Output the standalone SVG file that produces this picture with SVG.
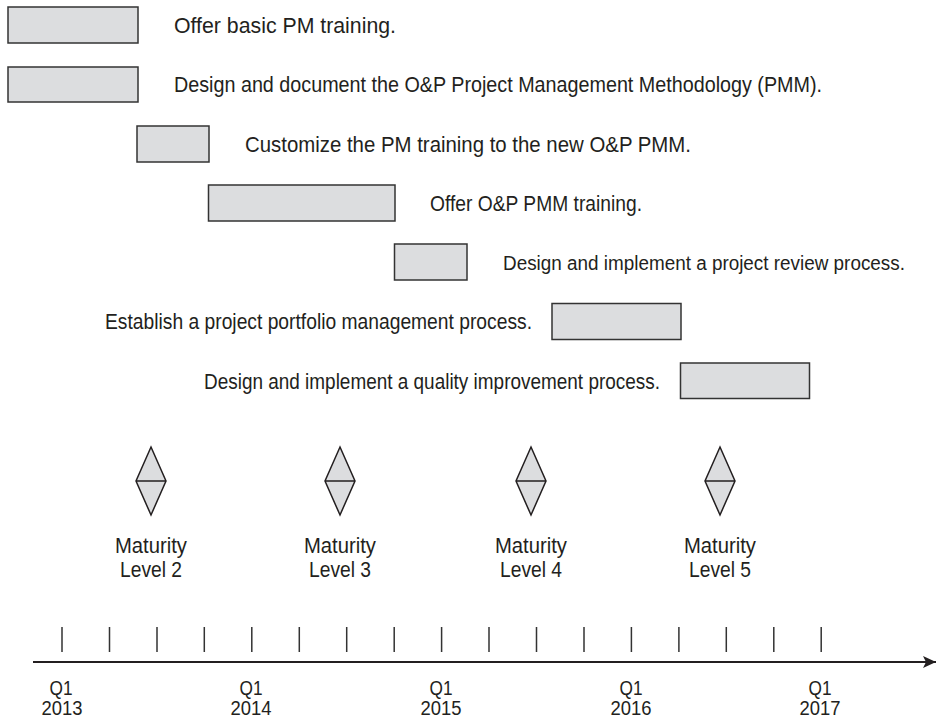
<svg xmlns="http://www.w3.org/2000/svg" width="938" height="719" viewBox="0 0 938 719">
<style>
  .bar{fill:#dcdddf;stroke:#333;stroke-width:1.5}
  .t{font-family:"Liberation Sans",Arial,sans-serif;font-size:22px;fill:#231f20}
  .a{font-size:20px}
  .c{text-anchor:middle}
  .dia{fill:#dcdddf;stroke:#231f20;stroke-width:1.5;stroke-linejoin:miter}
  .tick{stroke:#333;stroke-width:1.5}
  .axis{stroke:#231f20;stroke-width:2;fill:none}
</style>
<defs>
  <marker id="arr" viewBox="0 0 14 14" refX="13" refY="7" markerWidth="14" markerHeight="14" markerUnits="userSpaceOnUse" orient="auto">
    <path d="M0,1 L13,7 L0,13 L3,7 Z" fill="#231f20"/>
  </marker>
</defs>
<rect width="938" height="719" fill="#fff"/>

<g id="task1"><rect class="bar" x="8" y="7" width="130" height="36"/><text class="t" x="174" y="33" textLength="222" lengthAdjust="spacingAndGlyphs">Offer basic PM training.</text></g>
<g id="task2"><rect class="bar" x="8" y="67" width="130" height="35"/><text class="t" x="174" y="92" textLength="648" lengthAdjust="spacingAndGlyphs">Design and document the O&amp;P Project Management Methodology (PMM).</text></g>
<g id="task3"><rect class="bar" x="137" y="126" width="72" height="36"/><text class="t" x="245" y="152" textLength="446" lengthAdjust="spacingAndGlyphs">Customize the PM training to the new O&amp;P PMM.</text></g>
<g id="task4"><rect class="bar" x="208.5" y="185" width="186.5" height="36"/><text class="t" x="430" y="211" textLength="212" lengthAdjust="spacingAndGlyphs">Offer O&amp;P PMM training.</text></g>
<g id="task5"><rect class="bar" x="394.5" y="244" width="72.5" height="36"/><text class="t a" x="503" y="270" textLength="402" lengthAdjust="spacingAndGlyphs">Design and implement a project review process.</text></g>
<g id="task6"><rect class="bar" x="552" y="303.5" width="129" height="36"/><text class="t" x="105" y="329" textLength="427" lengthAdjust="spacingAndGlyphs">Establish a project portfolio management process.</text></g>
<g id="task7"><rect class="bar" x="680.5" y="363" width="129" height="35.5"/><text class="t" x="204" y="389" textLength="456" lengthAdjust="spacingAndGlyphs">Design and implement a quality improvement process.</text></g>

<g id="milestone2"><path class="dia" d="M151,447 L166,481 L151,515 L136,481 Z M136,481 H166"/><text class="t c" x="151" y="553" textLength="72" lengthAdjust="spacingAndGlyphs">Maturity</text><text class="t c" x="151" y="577" textLength="62" lengthAdjust="spacingAndGlyphs">Level 2</text></g>
<g id="milestone3"><path class="dia" d="M340,447 L355,481 L340,515 L325,481 Z M325,481 H355"/><text class="t c" x="340" y="553" textLength="72" lengthAdjust="spacingAndGlyphs">Maturity</text><text class="t c" x="340" y="577" textLength="62" lengthAdjust="spacingAndGlyphs">Level 3</text></g>
<g id="milestone4"><path class="dia" d="M531,447 L546,481 L531,515 L516,481 Z M516,481 H546"/><text class="t c" x="531" y="553" textLength="72" lengthAdjust="spacingAndGlyphs">Maturity</text><text class="t c" x="531" y="577" textLength="62" lengthAdjust="spacingAndGlyphs">Level 4</text></g>
<g id="milestone5"><path class="dia" d="M720,447 L735,481 L720,515 L705,481 Z M705,481 H735"/><text class="t c" x="720" y="553" textLength="72" lengthAdjust="spacingAndGlyphs">Maturity</text><text class="t c" x="720" y="577" textLength="62" lengthAdjust="spacingAndGlyphs">Level 5</text></g>

<g id="timeline">
  <g id="ticks">
    <path class="tick" d="M62,627 V652 M109.5,627 V652 M157,627 V652 M204.3,627 V652 M251.8,627 V652 M299.3,627 V652 M346.7,627 V652 M394.2,627 V652 M441.6,627 V652 M489,627 V652 M536.5,627 V652 M584,627 V652 M631.4,627 V652 M678.9,627 V652 M726.3,627 V652 M773.8,627 V652 M821.2,627 V652"/>
  </g>
  <g id="labels">
    <text class="t a c" x="61" y="695" textLength="23" lengthAdjust="spacingAndGlyphs">Q1</text><text class="t a c" x="62" y="715" textLength="41" lengthAdjust="spacingAndGlyphs">2013</text>
    <text class="t a c" x="251" y="695" textLength="23" lengthAdjust="spacingAndGlyphs">Q1</text><text class="t a c" x="251" y="715" textLength="41" lengthAdjust="spacingAndGlyphs">2014</text>
    <text class="t a c" x="441" y="695" textLength="23" lengthAdjust="spacingAndGlyphs">Q1</text><text class="t a c" x="441" y="715" textLength="41" lengthAdjust="spacingAndGlyphs">2015</text>
    <text class="t a c" x="631" y="695" textLength="23" lengthAdjust="spacingAndGlyphs">Q1</text><text class="t a c" x="631" y="715" textLength="41" lengthAdjust="spacingAndGlyphs">2016</text>
    <text class="t a c" x="820" y="695" textLength="23" lengthAdjust="spacingAndGlyphs">Q1</text><text class="t a c" x="820" y="715" textLength="41" lengthAdjust="spacingAndGlyphs">2017</text>
  </g>
</g>
<g id="connectors">
  <path class="axis" d="M33,662 H936" marker-end="url(#arr)"/>
</g>
</svg>
